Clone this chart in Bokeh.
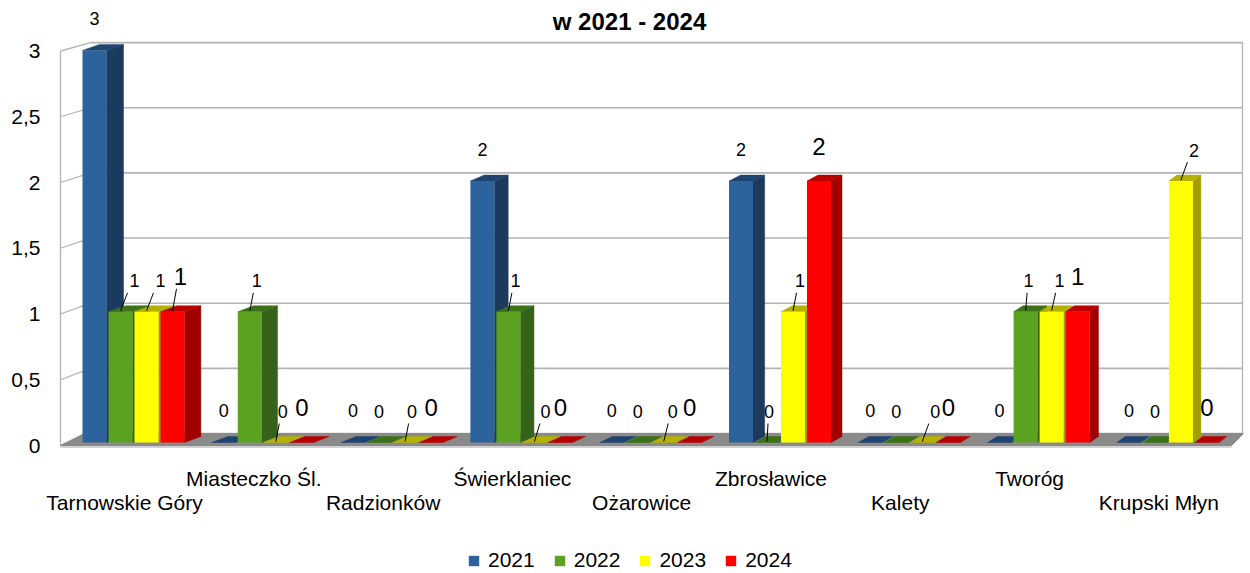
from bokeh.plotting import figure
from bokeh.models import (Range1d, LinearAxis, FixedTicker, ColumnDataSource, Legend,
                          LegendItem)
from bokeh.core.properties import value
from bokeh.embed import file_html
from bokeh.resources import INLINE

# ---------------- data ----------------
TITLE = "w 2021 - 2024"
CATEGORIES = ["Tarnowskie Góry", "Miasteczko Śl.", "Radzionków", "Świerklaniec",
              "Ożarowice", "Zbrosławice", "Kalety", "Tworóg", "Krupski Młyn"]
SERIES = ["2021", "2022", "2023", "2024"]
V2021 = [3, 0, 0, 2, 0, 2, 0, 0, 0]
V2022 = [1, 1, 0, 1, 0, 0, 0, 1, 0]
V2023 = [1, 0, 0, 0, 0, 1, 0, 1, 2]
V2024 = [1, 0, 0, 0, 0, 2, 0, 1, 0]
Y_TICKS = [0.0, 0.5, 1.0, 1.5, 2.0, 2.5, 3.0]
VALUES = [V2021, V2022, V2023, V2024]

# ---------------- styles ----------------
FRONT = ["#2d639c", "#5aa21f", "#ffff00", "#ff0000"]
SIDE = ["#1c3a5d", "#36631a", "#a29e00", "#a00000"]
TOP = ["#204470", "#3d7118", "#b5b100", "#b80000"]
LABEL_SIZE = ["18px", "18px", "18px", "24px"]
LABEL_RISE = [32, 31, 31, 35]
# label nudges (px) and leader-line flags, per series
NUDGE = [[0] * 9,
         [14, 7, 0, 7, 0, 2, 0, 3, 0],
         [14, 7, 7, 11, 9, 7, 13, 8, 13],
         [8, 0, 0, 0, 0, 0, 0, 0, 0]]
LEADER = [[0] * 9,
          [1, 1, 0, 1, 0, 1, 0, 1, 0],
          [1] * 9,
          [1, 0, 0, 0, 0, 0, 0, 0, 0]]
FONT = value("Liberation Sans")
GRID = "#b3b3b3"

# ---------------- geometry (page pixels) ----------------
FIG_W, FIG_H = 1250, 573
FRAME_L, FRAME_R, FRAME_T, FRAME_B = 40, 1250, 0, 573
AXIS_X = 60          # front edge of the side wall
PXU = 130.7          # px per unit on bar plane
BAR_BASE = 442
FRONT_BASE, FRONT_PXU = 445, 131.5
BACK_BASE, BACK_PXU = 433, 130.3
WALL_X, RIGHT_X = 90, 1242
GROUP0, GROUP_STEP, SLOT, BAR_W, TOP_DY = 82, 129.3, 26, 24, 6


def dy(page_y):
    return (BAR_BASE - page_y) / PXU


def front(v):
    return dy(FRONT_BASE - FRONT_PXU * v)


def back(v):
    return dy(BACK_BASE - BACK_PXU * v)


def depth_dx(xr):
    return 17 - 9 * (xr - 106) / (1192 - 106)


p = figure(width=FIG_W, height=FIG_H,
           x_range=Range1d(FRAME_L, FRAME_R),
           y_range=Range1d(dy(FRAME_B), dy(FRAME_T)),
           output_backend="svg", toolbar_location=None,
           x_axis_location=None, y_axis_location=None,
           min_border_left=FRAME_L, min_border_right=0,
           min_border_top=0, min_border_bottom=0,
           outline_line_color=None, background_fill_color="white")
p.grid.visible = False

# front value axis (labels only; its line is drawn at the wall's front edge)
p.extra_y_ranges = {"front": Range1d((FRONT_BASE - FRAME_B) / FRONT_PXU,
                                     (FRONT_BASE - FRAME_T) / FRONT_PXU)}
overrides = {}
for t in Y_TICKS:
    overrides[t] = ("%g" % t).replace(".", ",")
ax = LinearAxis(y_range_name="front", ticker=FixedTicker(ticks=Y_TICKS),
                bounds=(Y_TICKS[0], Y_TICKS[-1]),
                major_tick_out=0, major_tick_in=0, minor_tick_out=0, minor_tick_in=0,
                major_label_standoff=0, axis_line_color=None,
                major_label_text_font_size="21px", major_label_text_font="Liberation Sans",
                major_label_text_color="#000000", major_label_overrides=overrides)
p.add_layout(ax, "left")

# walls: front edge, side-wall slants, back-wall gridlines, right edge
p.segment(x0=[AXIS_X], y0=[front(Y_TICKS[0])], x1=[AXIS_X], y1=[front(Y_TICKS[-1])],
          line_color=GRID, line_width=1.3)
p.segment(x0=[AXIS_X] * len(Y_TICKS), y0=[front(v) for v in Y_TICKS],
          x1=[WALL_X] * len(Y_TICKS), y1=[back(v) for v in Y_TICKS],
          line_color=GRID, line_width=1.3)
p.segment(x0=[WALL_X] * len(Y_TICKS), y0=[back(v) for v in Y_TICKS],
          x1=[RIGHT_X] * len(Y_TICKS), y1=[back(v) for v in Y_TICKS],
          line_color=GRID, line_width=1.6)
p.segment(x0=[RIGHT_X], y0=[back(Y_TICKS[0])], x1=[RIGHT_X], y1=[back(Y_TICKS[-1])],
          line_color=GRID, line_width=1.3)

# floor
p.patch(x=[AXIS_X, 1231, RIGHT_X + 1, 84], y=[front(0), front(0), back(0), back(0)],
        fill_color="#8a8a8a", line_color="#8a8a8a", line_width=1)
p.segment(x0=[AXIS_X], y0=[front(0) - 1.5 / PXU], x1=[1231], y1=[front(0) - 1.5 / PXU],
          line_color="#d2d2d2", line_width=2)

# bars
front_renderers = []
lab_x, lab_y, lab_t, lab_size = [], [], [], []
lead = dict(x0=[], y0=[], x1=[], y1=[])
for j, vals in enumerate(VALUES):
    fl, fr, fb, ft = [], [], [], []
    sx, sy, tx, ty = [], [], [], []
    for i, v in enumerate(vals):
        x0 = GROUP0 + GROUP_STEP * i + SLOT * j
        x1 = x0 + BAR_W
        d = depth_dx(x1)
        up = TOP_DY / PXU
        fl.append(x0); fr.append(x1); fb.append(0); ft.append(v)
        if v > 0:
            sx.append([x1, x1, x1 + d, x1 + d]); sy.append([0, v, v + up, up])
        tx.append([x0, x1, x1 + d, x0 + d]); ty.append([v, v, v + up, v + up])
        cx = (x0 + x1) / 2
        lx = cx + NUDGE[j][i]
        ly = v + LABEL_RISE[j] / PXU
        lab_x.append(lx); lab_y.append(ly); lab_t.append(str(v)); lab_size.append(LABEL_SIZE[j])
        if LEADER[j][i]:
            lead["x0"].append(cx); lead["y0"].append(v + 1 / PXU)
            lead["x1"].append(cx + 0.5 * NUDGE[j][i]); lead["y1"].append(ly - 12 / PXU)
    if sx:
        p.patches(xs=sx, ys=sy, fill_color=SIDE[j], line_color=SIDE[j], line_width=0.5)
    p.patches(xs=tx, ys=ty, fill_color=TOP[j], line_color=TOP[j], line_width=0.5)
    r = p.quad(left=fl, right=fr, bottom=fb, top=ft, fill_color=FRONT[j],
               line_color=None)
    front_renderers.append(r)

# leader lines and value labels
p.segment(x0=lead["x0"], y0=lead["y0"], x1=lead["x1"], y1=lead["y1"],
          line_color="#000000", line_width=1)
src = ColumnDataSource(dict(x=lab_x, y=lab_y, t=lab_t, s=lab_size))
p.text(x="x", y="y", text="t", text_font_size="s", source=src, text_font=FONT,
       text_align="center", text_baseline="middle", text_color="#000000")

# category labels (staggered)
cat_x = [GROUP0 + GROUP_STEP * i + 42 for i in range(len(CATEGORIES))]
cat_y = [dy(478) if i % 2 else dy(502) for i in range(len(CATEGORIES))]
p.text(x=cat_x, y=cat_y, text=CATEGORIES, text_font=FONT, text_font_size="21px",
       text_align="center", text_baseline="middle", text_color="#000000")

# title
p.text(x=[629], y=[dy(21)], text=[TITLE], text_font=FONT, text_font_size="24px",
       text_font_style="bold", text_align="center", text_baseline="alphabetic",
       text_color="#000000")

legend = Legend(items=[LegendItem(label=s, renderers=[front_renderers[j]])
                       for j, s in enumerate(SERIES)],
                orientation="horizontal", location=(467 - FRAME_L, 1),
                glyph_width=13, glyph_height=13, label_standoff=8, spacing=18,
                padding=0, margin=0, border_line_color=None, background_fill_alpha=0,
                label_text_font_size="21px", label_text_font="Liberation Sans",
                label_text_color="#000000")
p.add_layout(legend)

with open("out.html", "w", encoding="utf-8") as f:
    f.write(file_html(p, INLINE))
